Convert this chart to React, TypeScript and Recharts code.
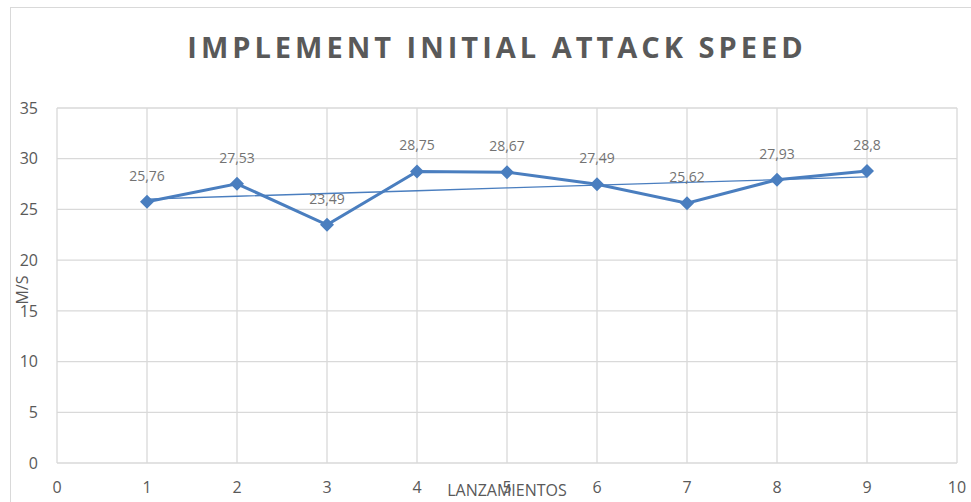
import { ComposedChart, Line, XAxis, YAxis, CartesianGrid, LabelList } from 'recharts';

const launches = [1, 2, 3, 4, 5, 6, 7, 8, 9];
const speeds = [25.76, 27.53, 23.49, 28.75, 28.67, 27.49, 25.62, 27.93, 28.8];
const xTicks = [0, 1, 2, 3, 4, 5, 6, 7, 8, 9, 10];
const yTicks = [0, 5, 10, 15, 20, 25, 30, 35];

const blue = '#4a7ebf';
const gray = '#595959';
const font = '"Open Sans", sans-serif';

// linear trendline (least squares), like Excel's
const n = launches.length;
const meanX = launches.reduce((a, b) => a + b, 0) / n;
const meanY = speeds.reduce((a, b) => a + b, 0) / n;
let sxy = 0;
let sxx = 0;
launches.forEach((x, i) => {
  sxy += (x - meanX) * (speeds[i] - meanY);
  sxx += (x - meanX) * (x - meanX);
});
const slope = sxy / sxx;

const data = launches.map((x, i) => ({
  x,
  speed: speeds[i],
  trend: meanY + slope * (x - meanX),
}));

const Diamond = (props: any) => {
  const { cx, cy } = props;
  if (cx == null || cy == null) return null;
  const r = 7;
  return <path d={`M${cx} ${cy - r}L${cx + r} ${cy}L${cx} ${cy + r}L${cx - r} ${cy}Z`} fill={blue} />;
};

export default function App() {
  return (
    <div style={{ position: 'absolute', left: 0, top: 0, width: 971, height: 502, overflow: 'hidden', background: '#fff', fontFamily: font }}>
      <div style={{ position: 'absolute', left: 10, top: 7, width: 1000, height: 600, border: '1.5px solid #d9d9d9' }} />
      <div
        style={{
          position: 'absolute',
          left: 0,
          width: 994,
          top: 27,
          textAlign: 'center',
          fontSize: 29,
          fontWeight: 700,
          letterSpacing: 4,
          color: gray,
        }}
      >
        IMPLEMENT INITIAL ATTACK SPEED
      </div>
      <div style={{ position: 'absolute', left: 0, top: 0 }}>
        <ComposedChart width={971} height={502} data={data} margin={{ top: 108, right: 14, bottom: 9, left: 0 }}>
          <CartesianGrid stroke="#d9d9d9" strokeWidth={1.3} />
          <XAxis
            type="number"
            dataKey="x"
            domain={[0, 10]}
            ticks={xTicks}
            axisLine={false}
            tickLine={false}
            tickMargin={13}
            height={30}
            tick={{ fill: gray, fontSize: 16, fontFamily: font }}
            label={{
              content: (p: any) => (
                <text x={p.viewBox.x + p.viewBox.width / 2} y={496} textAnchor="middle" fill={gray} fontSize={16} fontFamily={font}>
                  LANZAMIENTOS
                </text>
              ),
            }}
          />
          <YAxis
            type="number"
            domain={[0, 35]}
            ticks={yTicks}
            axisLine={false}
            tickLine={false}
            tickMargin={13}
            width={57}
            tick={{ fill: gray, fontSize: 16, fontFamily: font }}
            label={{
              content: () => (
                <text x={0} y={0} transform="translate(28 290) rotate(-90)" textAnchor="middle" fill={gray} fontSize={16} fontFamily={font}>
                  M/S
                </text>
              ),
            }}
          />
          <Line
            type="linear"
            dataKey="speed"
            stroke={blue}
            strokeWidth={3}
            dot={<Diamond />}
            activeDot={false}
            isAnimationActive={false}
          >
            <LabelList
              dataKey="speed"
              position="top"
              offset={21}
              fill="#737373"
              fontSize={14}
              fontFamily={font}
              formatter={(v: any) => String(v).replace('.', ',')}
            />
          </Line>
          <Line
            type="linear"
            dataKey="trend"
            stroke={blue}
            strokeWidth={1.3}
            dot={false}
            activeDot={false}
            isAnimationActive={false}
          />
        </ComposedChart>
      </div>
    </div>
  );
}
